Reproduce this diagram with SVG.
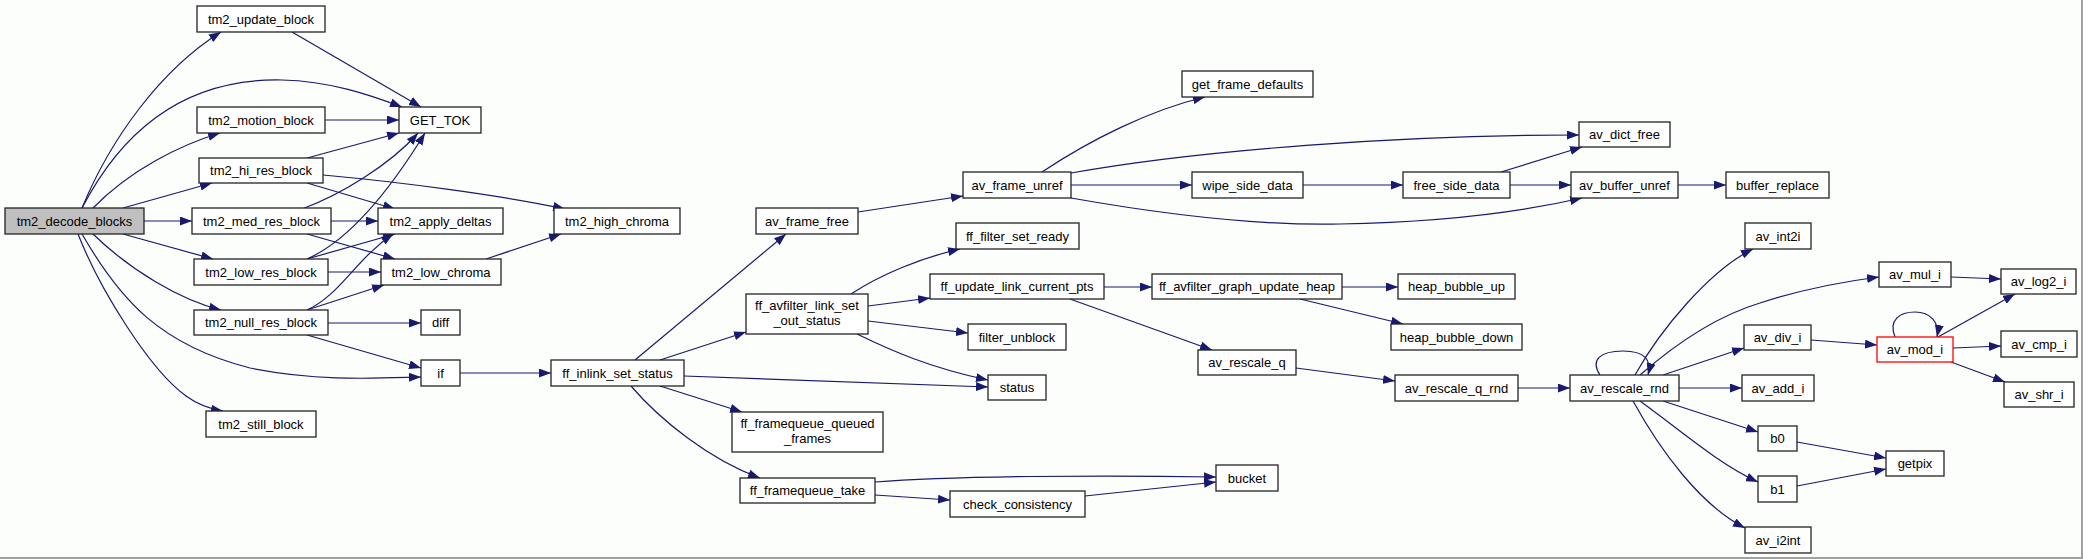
<svg xmlns="http://www.w3.org/2000/svg" width="2083" height="559" viewBox="0 0 2083 559">
<style>
.n rect{fill:#ffffff;stroke:#222222;stroke-width:1.3}
.n text{font-family:"Liberation Sans",Arial,sans-serif;font-size:13px;fill:#000000;text-anchor:middle}
#edges path{fill:none;stroke:#191970;stroke-width:1.2;marker-end:url(#a)}
</style>
<defs>
<marker id="a" viewBox="0 0 12 9" refX="12" refY="4.5" markerWidth="12" markerHeight="9" markerUnits="userSpaceOnUse" orient="auto"><path d="M0,0L12,4.5L0,9z" fill="#191970"/></marker>
</defs>
<rect x="0" y="0" width="2083" height="559" fill="#fcfefc"/>
<line x1="0" y1="558" x2="2083" y2="558" stroke="#a0a0a0" stroke-width="2"/>
<line x1="2082" y1="0" x2="2082" y2="559" stroke="#a0a0a0" stroke-width="2"/>
<g id="edges">
<path d="M82,208 C110,140 160,70 221,32"/>
<path d="M82,208 C125,125 190,78 282,80 C330,81 370,95 402,107"/>
<path d="M93,208 C130,170 180,145 220,133"/>
<path d="M123,208 L212,183"/>
<path d="M144,221 L192,221"/>
<path d="M123,234 L213,259"/>
<path d="M93,234 C130,270 180,300 221,310"/>
<path d="M82,234 C120,300 160,345 250,368 C320,382 380,378 421,377"/>
<path d="M78,234 C100,290 150,370 186,396 C197,404 210,409 223,411"/>
<path d="M292,32 L421,107"/>
<path d="M325,120 L399,120"/>
<path d="M307,158 L399,133"/>
<path d="M307,183 L395,209"/>
<path d="M323,175 C400,182 500,195 565,209"/>
<path d="M302,209 C340,195 390,165 418,133"/>
<path d="M331,221 L378,221"/>
<path d="M307,234 L395,259"/>
<path d="M307,259 C350,240 390,190 425,133"/>
<path d="M307,259 L395,234"/>
<path d="M328,272 L381,272"/>
<path d="M307,310 C340,295 355,260 393,234"/>
<path d="M307,310 L384,285"/>
<path d="M328,323 L421,323"/>
<path d="M307,335 L421,368"/>
<path d="M486,259 L561,234"/>
<path d="M460,373 L551,373"/>
<path d="M635,360 L786,234"/>
<path d="M660,360 L746,332"/>
<path d="M684,376 L988,387"/>
<path d="M660,386 L742,412"/>
<path d="M631,386 C660,420 710,460 760,478"/>
<path d="M851,294 C880,275 920,258 960,249"/>
<path d="M868,306 L930,298"/>
<path d="M868,321 L968,333"/>
<path d="M857,334 C890,350 930,368 988,380"/>
<path d="M875,482 C950,476 1100,475 1216,477"/>
<path d="M875,495 L950,500"/>
<path d="M1085,496 L1216,482"/>
<path d="M858,212 L963,196"/>
<path d="M1042,172 C1090,140 1150,110 1205,97"/>
<path d="M1071,173 C1200,150 1400,135 1579,135"/>
<path d="M1071,185 L1192,185"/>
<path d="M1071,198 C1150,212 1250,226 1340,224 C1450,222 1530,210 1582,198"/>
<path d="M1303,185 L1403,185"/>
<path d="M1501,172 L1582,147"/>
<path d="M1510,185 L1571,185"/>
<path d="M1678,185 L1726,185"/>
<path d="M1104,287 L1152,287"/>
<path d="M1070,299 L1212,350"/>
<path d="M1342,287 L1398,287"/>
<path d="M1300,299 L1403,324"/>
<path d="M1296,368 L1395,381"/>
<path d="M1518,388 L1570,388"/>
<path d="M1600,375 C1590,360 1600,351 1623,351 C1645,351 1652,360 1648,375"/>
<path d="M1635,375 C1660,330 1710,270 1753,249"/>
<path d="M1640,375 C1680,340 1720,315 1760,303 C1800,290 1840,282 1879,277"/>
<path d="M1663,375 L1744,348"/>
<path d="M1679,388 L1742,388"/>
<path d="M1663,401 L1758,432"/>
<path d="M1640,401 C1680,430 1720,465 1758,482"/>
<path d="M1633,401 C1660,450 1700,505 1745,528"/>
<path d="M1951,277 L2001,279"/>
<path d="M1811,340 L1877,345"/>
<path d="M1895,337 C1888,320 1900,312 1915,312 C1930,312 1940,322 1937,337"/>
<path d="M1938,337 L2015,294"/>
<path d="M1953,348 L2001,346"/>
<path d="M1951,362 L2005,382"/>
<path d="M1797,442 L1886,458"/>
<path d="M1797,486 L1886,469"/>
</g>
<g id="tm2_decode_blocks" class="n"><rect x="5" y="208" width="139" height="26" style="fill:#bfbfbf"/><text x="74.5" y="226">tm2_decode_blocks</text></g>
<g id="tm2_update_block" class="n"><rect x="197" y="6" width="128" height="26"/><text x="261" y="24">tm2_update_block</text></g>
<g id="tm2_motion_block" class="n"><rect x="197" y="107" width="128" height="26"/><text x="261" y="125">tm2_motion_block</text></g>
<g id="tm2_hi_res_block" class="n"><rect x="199" y="158" width="124" height="25"/><text x="261" y="175">tm2_hi_res_block</text></g>
<g id="tm2_med_res_block" class="n"><rect x="192" y="208" width="139" height="26"/><text x="261.5" y="226">tm2_med_res_block</text></g>
<g id="tm2_low_res_block" class="n"><rect x="194" y="259" width="134" height="26"/><text x="261" y="277">tm2_low_res_block</text></g>
<g id="tm2_null_res_block" class="n"><rect x="194" y="310" width="134" height="25"/><text x="261" y="327">tm2_null_res_block</text></g>
<g id="tm2_still_block" class="n"><rect x="206" y="411" width="110" height="26"/><text x="261" y="429">tm2_still_block</text></g>
<g id="GET_TOK" class="n"><rect x="399" y="107" width="82" height="26"/><text x="440" y="125">GET_TOK</text></g>
<g id="tm2_apply_deltas" class="n"><rect x="378" y="208" width="125" height="26"/><text x="440.5" y="226">tm2_apply_deltas</text></g>
<g id="tm2_low_chroma" class="n"><rect x="381" y="259" width="120" height="26"/><text x="441" y="277">tm2_low_chroma</text></g>
<g id="diff" class="n"><rect x="421" y="310" width="39" height="25"/><text x="440.5" y="327">diff</text></g>
<g id="if" class="n"><rect x="421" y="360" width="39" height="26"/><text x="440.5" y="378">if</text></g>
<g id="tm2_high_chroma" class="n"><rect x="554" y="208" width="126" height="26"/><text x="617" y="226">tm2_high_chroma</text></g>
<g id="ff_inlink_set_status" class="n"><rect x="551" y="360" width="133" height="26"/><text x="617.5" y="378">ff_inlink_set_status</text></g>
<g id="av_frame_free" class="n"><rect x="756" y="208" width="102" height="26"/><text x="807" y="226">av_frame_free</text></g>
<g id="ff_avfilter_link_set_out_status" class="n"><rect x="746" y="294" width="122" height="40"/><text x="807" y="310">ff_avfilter_link_set</text><text x="807" y="325">_out_status</text></g>
<g id="ff_framequeue_queued_frames" class="n"><rect x="732" y="412" width="151" height="40"/><text x="807.5" y="428">ff_framequeue_queued</text><text x="807.5" y="443">_frames</text></g>
<g id="ff_framequeue_take" class="n"><rect x="740" y="478" width="135" height="25"/><text x="807.5" y="495">ff_framequeue_take</text></g>
<g id="av_frame_unref" class="n"><rect x="963" y="172" width="108" height="26"/><text x="1017" y="190">av_frame_unref</text></g>
<g id="ff_filter_set_ready" class="n"><rect x="956" y="223" width="123" height="26"/><text x="1017.5" y="241">ff_filter_set_ready</text></g>
<g id="ff_update_link_current_pts" class="n"><rect x="930" y="274" width="174" height="25"/><text x="1017" y="291">ff_update_link_current_pts</text></g>
<g id="filter_unblock" class="n"><rect x="968" y="324" width="98" height="26"/><text x="1017" y="342">filter_unblock</text></g>
<g id="status" class="n"><rect x="988" y="375" width="58" height="25"/><text x="1017" y="392">status</text></g>
<g id="check_consistency" class="n"><rect x="950" y="491" width="135" height="26"/><text x="1017.5" y="509">check_consistency</text></g>
<g id="get_frame_defaults" class="n"><rect x="1182" y="71" width="131" height="26"/><text x="1247.5" y="89">get_frame_defaults</text></g>
<g id="wipe_side_data" class="n"><rect x="1192" y="172" width="111" height="26"/><text x="1247.5" y="190">wipe_side_data</text></g>
<g id="ff_avfilter_graph_update_heap" class="n"><rect x="1152" y="274" width="190" height="25"/><text x="1247" y="291">ff_avfilter_graph_update_heap</text></g>
<g id="av_rescale_q" class="n"><rect x="1198" y="350" width="98" height="25"/><text x="1247" y="367">av_rescale_q</text></g>
<g id="bucket" class="n"><rect x="1216" y="465" width="62" height="26"/><text x="1247" y="483">bucket</text></g>
<g id="free_side_data" class="n"><rect x="1403" y="172" width="107" height="26"/><text x="1456.5" y="190">free_side_data</text></g>
<g id="heap_bubble_up" class="n"><rect x="1398" y="274" width="117" height="25"/><text x="1456.5" y="291">heap_bubble_up</text></g>
<g id="heap_bubble_down" class="n"><rect x="1391" y="324" width="131" height="26"/><text x="1456.5" y="342">heap_bubble_down</text></g>
<g id="av_rescale_q_rnd" class="n"><rect x="1395" y="375" width="123" height="26"/><text x="1456.5" y="393">av_rescale_q_rnd</text></g>
<g id="av_dict_free" class="n"><rect x="1579" y="122" width="91" height="25"/><text x="1624.5" y="139">av_dict_free</text></g>
<g id="av_buffer_unref" class="n"><rect x="1571" y="172" width="107" height="26"/><text x="1624.5" y="190">av_buffer_unref</text></g>
<g id="buffer_replace" class="n"><rect x="1726" y="172" width="103" height="26"/><text x="1777.5" y="190">buffer_replace</text></g>
<g id="av_rescale_rnd" class="n"><rect x="1570" y="375" width="109" height="26"/><text x="1624.5" y="393">av_rescale_rnd</text></g>
<g id="av_int2i" class="n"><rect x="1745" y="223" width="66" height="26"/><text x="1778" y="241">av_int2i</text></g>
<g id="av_div_i" class="n"><rect x="1744" y="325" width="67" height="25"/><text x="1777.5" y="342">av_div_i</text></g>
<g id="av_add_i" class="n"><rect x="1742" y="375" width="72" height="26"/><text x="1778" y="393">av_add_i</text></g>
<g id="b0" class="n"><rect x="1758" y="426" width="39" height="25"/><text x="1777.5" y="443">b0</text></g>
<g id="b1" class="n"><rect x="1758" y="476" width="39" height="26"/><text x="1777.5" y="494">b1</text></g>
<g id="av_i2int" class="n"><rect x="1745" y="527" width="66" height="26"/><text x="1778" y="545">av_i2int</text></g>
<g id="av_mul_i" class="n"><rect x="1879" y="262" width="72" height="25"/><text x="1915" y="279">av_mul_i</text></g>
<g id="av_mod_i" class="n"><rect x="1877" y="337" width="76" height="25" style="stroke:#ff0000"/><text x="1915" y="354">av_mod_i</text></g>
<g id="getpix" class="n"><rect x="1886" y="451" width="58" height="25"/><text x="1915" y="468">getpix</text></g>
<g id="av_log2_i" class="n"><rect x="2001" y="269" width="75" height="25"/><text x="2038.5" y="286">av_log2_i</text></g>
<g id="av_cmp_i" class="n"><rect x="2001" y="331" width="76" height="26"/><text x="2039" y="349">av_cmp_i</text></g>
<g id="av_shr_i" class="n"><rect x="2004" y="382" width="70" height="25"/><text x="2039" y="399">av_shr_i</text></g>
</svg>
